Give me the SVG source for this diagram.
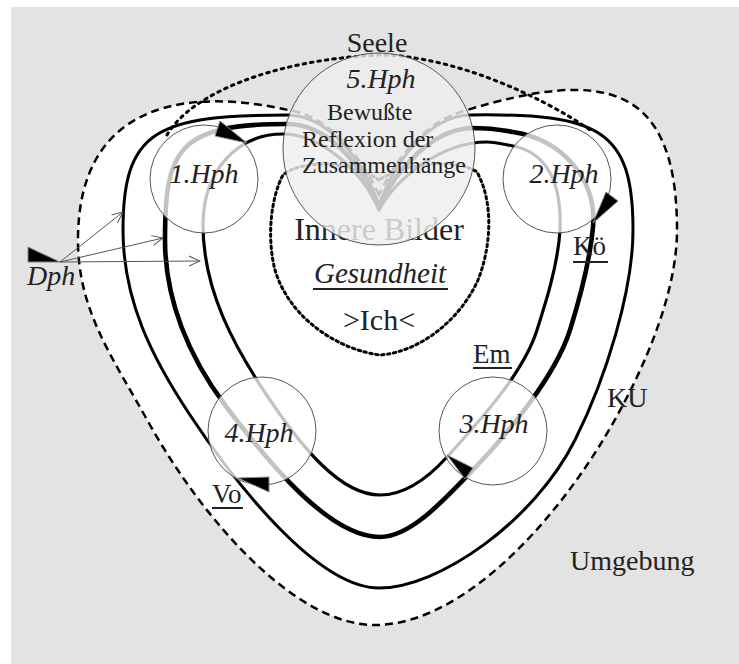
<svg xmlns="http://www.w3.org/2000/svg" width="739" height="664" viewBox="0 0 739 664">
<style>
.t{font-family:"Liberation Serif","Times New Roman",serif;fill:#222}
.i{font-style:italic}
.m{text-anchor:middle}
.ln{fill:none;stroke:#000;stroke-linecap:round;stroke-linejoin:round}
.hc{fill:#fff;fill-opacity:0.76;stroke:#555;stroke-width:1}
.ah{fill:#000;stroke:#888;stroke-width:1;stroke-linejoin:round}
.ul{stroke:#222;stroke-width:2}
.dp{fill:none;stroke:#555;stroke-width:1}
</style>
<defs>
<marker id="open" viewBox="0 0 12 12" refX="11" refY="6" markerWidth="12" markerHeight="12" markerUnits="userSpaceOnUse" orient="auto">
<polyline points="0,1 11,6 0,11" fill="none" stroke="#555" stroke-width="1"/>
</marker>
</defs>
<rect x="0" y="0" width="739" height="664" fill="#fff"/>
<rect x="11" y="7" width="728" height="657" fill="#e3e3e3"/>

<g id="connectors">
<path id="outer-heart" d="M379,195 C358,150 325,115 288,110 C190,88 78,100 78,240 C78,310 111,355 150,425 C204,521 295,625 375,625 C455,625 542,538 600,445 C637,385 677,300 677,230 C677,80 600,70 467,110 C430,120 400,150 379,195 Z" fill="#fff" stroke="#000" stroke-width="2.5" stroke-dasharray="8,5"/>
<path id="seele-arc" d="M167,135 C190,95 270,60 379,55 C450,55 540,95 590,130" class="ln" stroke-width="3" stroke-dasharray="2.5,5" stroke-linecap="butt"/>
<path id="inner-heart" d="M379,180 C350,160 300,160 283,175 C272,195 266,235 275,270 C290,320 340,350 380,355 C420,352 460,320 478,280 C490,250 495,205 477,172 C460,160 410,160 379,180" class="ln" stroke-width="3" stroke-dasharray="2.5,3.5" stroke-linecap="butt"/>
<path id="line-a" d="M379,205 C363,160 328,115 287,115 C157,115 123,130 123,230 C123,300 151.5,357 190,415 C239.5,489.7 319,588 379,588 C439,588 534.5,521 575,440 C606.5,377 633,290 633,230 C633,130 600,113 470,115 C430,116 395,160 379,205" class="ln" stroke-width="3"/>
<path id="line-b" d="M379,207 C360,160 325,124 287,124 C177,124 165,150 165,240 C165,300 189,357 225,405 C270,465 330,537 380,537 C410,537 442,502 470,473 C505,437 555,377.5 570,330 C580,298 590,260 593,227 C597,182 565,140 513,132 C498,129 485,128 470,128 C435,130 398,165 379,207" class="ln" stroke-width="4.6"/>
<path id="line-c" d="M379,210 C362,170 320,134 283,134 C238,134 203,170 203,225 C203,290 234,347 270,400 C301,446 340,495 380,495 C405,495 428,478 447,457 C480.5,420 523.5,373 537,330 C545,305 558,265 560,230 C562,180 545,152 513,146 C503,144 495,142 487,142 C440,142 395,180 379,210" class="ln" stroke-width="3.2"/>
<line x1="60" y1="262" x2="123" y2="212" class="dp" marker-end="url(#open)"/>
<line x1="60" y1="262" x2="163" y2="238" class="dp" marker-end="url(#open)"/>
<line x1="60" y1="262" x2="200" y2="261" class="dp" marker-end="url(#open)"/>
</g>

<g id="center-texts">
<text class="t m" x="379" y="240" font-size="32">Innere Bilder</text>
<text class="t i m" x="380" y="283" font-size="29">Gesundheit</text>
<line x1="313" y1="289" x2="448" y2="289" class="ul"/>
<text class="t m" x="379" y="330" font-size="30">&gt;Ich&lt;</text>
</g>

<g id="node-1"><circle cx="204" cy="179" r="54" class="hc"/><text class="t i m" x="204" y="183" font-size="28">1.Hph</text>
<polygon class="ah" points="220,121 215,136 247,143"/></g>
<g id="node-2"><circle cx="557" cy="179" r="54" class="hc"/><text class="t i m" x="564" y="183" font-size="28">2.Hph</text>
<polygon class="ah" points="606,192 618,201 593,223"/></g>
<g id="node-3"><circle cx="493" cy="431" r="54" class="hc"/><text class="t i m" x="494" y="433" font-size="28">3.Hph</text>
<polygon class="ah" points="447,455 473,468 465,479"/></g>
<g id="node-4"><circle cx="262" cy="431" r="54" class="hc"/><text class="t i m" x="259" y="442" font-size="28">4.Hph</text>
<polygon class="ah" points="238,478 269,477 269,492"/></g>
<g id="node-5"><circle cx="379" cy="149" r="96" fill="#eeeeee" fill-opacity="0.82" stroke="#555" stroke-width="1"/>
<text class="t i m" x="381" y="88" font-size="28">5.Hph</text>
<text class="t" x="327" y="120" font-size="24">Bewußte</text>
<text class="t" x="302" y="147" font-size="24">Reflexion der</text>
<text class="t" x="302" y="173" font-size="24">Zusammenhänge</text></g>

<g id="labels">
<text class="t m" x="377" y="52" font-size="28">Seele</text>
<text class="t" x="573" y="255" font-size="27">Kö</text><line x1="573" y1="262" x2="608" y2="262" class="ul"/>
<text class="t" x="473" y="363" font-size="27">Em</text><line x1="473" y1="368" x2="512" y2="368" class="ul"/>
<text class="t" x="212" y="503" font-size="27">Vo</text><line x1="212" y1="508" x2="243" y2="508" class="ul"/>
<text class="t" x="607" y="407" font-size="28">KU</text>
<text class="t" x="570" y="570" font-size="28">Umgebung</text>
<text class="t i" x="27" y="285" font-size="28">Dph</text>
<polygon class="ah" points="28,247 28,262 60,262"/>
</g>
</svg>
